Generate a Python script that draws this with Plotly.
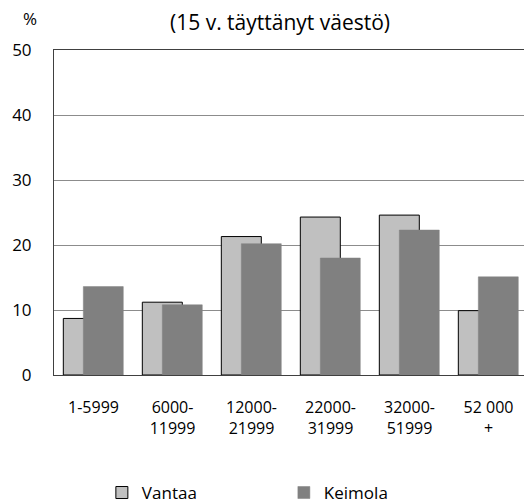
import plotly.graph_objects as go


# ---------------------------------------------------
# Data
# ---------------------------------------------------

categories = ["1-5999", "6000-<br>11999", "12000-<br>21999",
              "22000-<br>31999", "32000-<br>51999", "52 000<br>+"]
vantaa = [8.7, 11.2, 21.3, 24.3, 24.6, 9.9]
keimola = [13.6, 10.8, 20.2, 18.0, 22.3, 15.1]

y_ticks = [0, 10, 20, 30, 40, 50]

FONT = "Open Sans"

fig = go.Figure()

fig.add_trace(go.Bar(
    x=categories,
    y=vantaa,
    name="Vantaa",
    width=0.506,
    offset=-0.382,
    marker=dict(color="#c0c0c0", line=dict(color="#000000", width=1))
))

fig.add_trace(go.Bar(
    x=categories,
    y=keimola,
    name="Keimola",
    width=0.506,
    offset=-0.129,
    marker=dict(color="#808080", line=dict(color="#808080", width=0.5))
))

# page body adds an 8px margin, so the figure is a bit smaller
fig.update_layout(
    width=524,
    height=496,
    margin=dict(l=46, r=4, t=42, b=129, autoexpand=False),
    barmode="overlay",
    plot_bgcolor="white",
    paper_bgcolor="white",
    font=dict(family=FONT, size=16, color="#000000"),
    xaxis=dict(
        showline=True,
        linecolor="#404040",
        mirror=True,
        ticks="",
        showgrid=False,
        automargin=False,
        ticklabelstandoff=18,
        tickfont=dict(size=16),
    ),
    yaxis=dict(
        range=[0, 50],
        tickvals=y_ticks,
        showline=True,
        linecolor="#404040",
        mirror=True,
        gridcolor="#8c8c8c",
        gridwidth=1,
        ticks="",
        automargin=False,
        ticklabelstandoff=18,
        tickfont=dict(size=17),
    ),
    legend=dict(
        orientation="h",
        x=0.101,
        xanchor="left",
        y=-0.363,
        yanchor="middle",
        entrywidth=137,
        entrywidthmode="pixels",
        font=dict(size=17),
    ),
    annotations=[
        dict(text="(15 v. täyttänyt väestö)", x=0.477, xref="paper",
             y=1.087, yref="paper", showarrow=False,
             xanchor="center", yanchor="middle", font=dict(size=21)),
        dict(text="%", x=-0.051, xref="paper", y=1.098, yref="paper",
             showarrow=False, xanchor="center", yanchor="middle",
             font=dict(size=17)),
    ],
)

fig.write_html("out.html")
